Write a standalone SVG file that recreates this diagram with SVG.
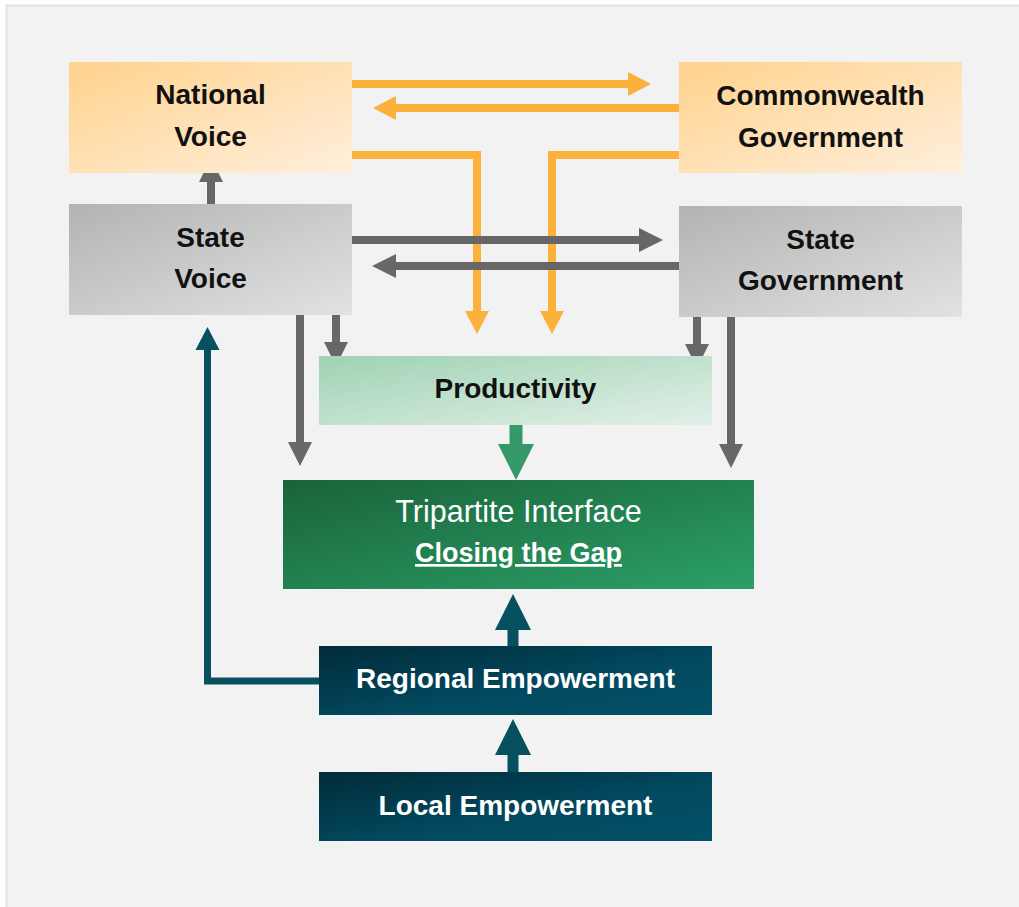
<svg xmlns="http://www.w3.org/2000/svg" width="1019" height="907" viewBox="0 0 1019 907">
<defs>
<style>
.t{font-family:"Liberation Sans",Arial,sans-serif;font-weight:bold;font-size:28px;fill:#111;text-anchor:middle}
.w{fill:#fff}
.o{fill:none;stroke:#fbb13c;stroke-width:8}
.g{fill:none;stroke:#676767;stroke-width:8}
.tl{fill:none;stroke:#07505f}
</style>
<linearGradient id="gOr" x1="0" y1="0" x2="1" y2="1"><stop offset="0" stop-color="#ffd28c"/><stop offset="1" stop-color="#ffefdd"/></linearGradient>
<linearGradient id="gGr" x1="0" y1="0" x2="1" y2="1"><stop offset="0" stop-color="#b2b3b3"/><stop offset="1" stop-color="#e2e2e2"/></linearGradient>
<linearGradient id="gPr" x1="0" y1="0" x2="1" y2="1"><stop offset="0" stop-color="#9fd2b3"/><stop offset="1" stop-color="#e2f0e8"/></linearGradient>
<linearGradient id="gTr" x1="0" y1="0" x2="1" y2="1"><stop offset="0" stop-color="#1a633b"/><stop offset="1" stop-color="#2ba067"/></linearGradient>
<linearGradient id="gTe" x1="0" y1="0" x2="1" y2="1"><stop offset="0" stop-color="#022b39"/><stop offset="0.6" stop-color="#024a60"/><stop offset="1" stop-color="#025167"/></linearGradient>
<marker id="mO" markerUnits="userSpaceOnUse" markerWidth="24" markerHeight="24" refX="0" refY="12" orient="auto" overflow="visible"><path d="M0,0 L23,12 L0,24 Z" fill="#fbb13c"/></marker>
<marker id="mG" markerUnits="userSpaceOnUse" markerWidth="24" markerHeight="24" refX="0" refY="12" orient="auto" overflow="visible"><path d="M0,0 L24,12 L0,24 Z" fill="#676767"/></marker>
<marker id="mGr" markerUnits="userSpaceOnUse" markerWidth="36" markerHeight="36" refX="0" refY="18" orient="auto" overflow="visible"><path d="M0,0 L36,18 L0,36 Z" fill="#36996a"/></marker>
<marker id="mT" markerUnits="userSpaceOnUse" markerWidth="36" markerHeight="36" refX="0" refY="18" orient="auto" overflow="visible"><path d="M0,0 L36,18 L0,36 Z" fill="#07505f"/></marker>
<marker id="mTs" markerUnits="userSpaceOnUse" markerWidth="24" markerHeight="24" refX="0" refY="12" orient="auto" overflow="visible"><path d="M0,0 L23,12 L0,24 Z" fill="#07505f"/></marker>
</defs>
<rect x="0" y="0" width="1019" height="907" fill="#ffffff"/>
<rect x="6.5" y="5.5" width="1030" height="920" fill="#f2f2f2" stroke="#e2e2e2" stroke-width="2"/>

<g id="connectors">
<path class="o" d="M352,84 H628" marker-end="url(#mO)"/>
<path class="o" d="M679,108 H396" marker-end="url(#mO)"/>
<path class="o" d="M352,155 H477 V311" marker-end="url(#mO)"/>
<path class="o" d="M679,155 H552 V311" marker-end="url(#mO)"/>
<path class="g" d="M211,204 V182" marker-end="url(#mG)"/>
<path class="g" d="M352,240 H639" marker-end="url(#mG)"/>
<path class="g" d="M679,266 H396" marker-end="url(#mG)"/>
<path class="g" d="M300,315 V442" marker-end="url(#mG)"/>
<path class="g" d="M336,315 V342" marker-end="url(#mG)"/>
<path class="g" d="M697,317 V344" marker-end="url(#mG)"/>
<path class="g" d="M731,317 V444" marker-end="url(#mG)"/>
<path d="M516,425 V444" fill="none" stroke="#36996a" stroke-width="13" marker-end="url(#mGr)"/>
<path class="tl" d="M513,646 V630" stroke-width="11" marker-end="url(#mT)"/>
<path class="tl" d="M513,772 V755" stroke-width="11" marker-end="url(#mT)"/>
<path class="tl" d="M319,681 H207.5 V350" stroke-width="7" marker-end="url(#mTs)"/>
</g>

<g id="national-voice">
<rect x="69" y="62" width="283" height="111" fill="url(#gOr)"/>
<text class="t" x="210.5" y="104">National</text>
<text class="t" x="210.5" y="146">Voice</text>
</g>
<g id="commonwealth-government">
<rect x="679" y="62" width="283" height="111" fill="url(#gOr)"/>
<text class="t" x="820.5" y="105">Commonwealth</text>
<text class="t" x="820.5" y="147">Government</text>
</g>
<g id="state-voice">
<rect x="69" y="204" width="283" height="111" fill="url(#gGr)"/>
<text class="t" x="210.5" y="247">State</text>
<text class="t" x="210.5" y="288">Voice</text>
</g>
<g id="state-government">
<rect x="679" y="206" width="283" height="111" fill="url(#gGr)"/>
<text class="t" x="820.5" y="249">State</text>
<text class="t" x="820.5" y="290">Government</text>
</g>
<g id="productivity">
<rect x="319" y="356" width="393" height="69" fill="url(#gPr)"/>
<text class="t" x="515.5" y="398">Productivity</text>
</g>
<g id="tripartite-interface">
<rect x="283" y="480" width="471" height="109" fill="url(#gTr)"/>
<text class="t w" x="518.5" y="522" style="font-weight:normal;font-size:30.5px">Tripartite Interface</text>
<text class="t w" x="518.5" y="562" style="font-size:27px" text-decoration="underline">Closing the Gap</text>
</g>
<g id="regional-empowerment">
<rect x="319" y="646" width="393" height="69" fill="url(#gTe)"/>
<text class="t w" x="515.5" y="688">Regional Empowerment</text>
</g>
<g id="local-empowerment">
<rect x="319" y="772" width="393" height="69" fill="url(#gTe)"/>
<text class="t w" x="515.5" y="815">Local Empowerment</text>
</g>
</svg>
